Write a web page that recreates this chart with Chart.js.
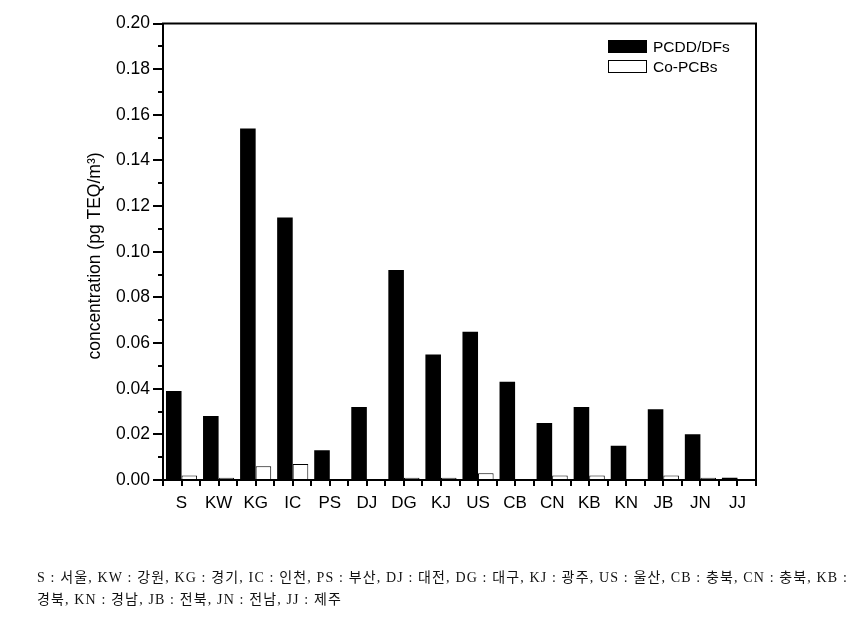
<!DOCTYPE html>
<html>
<head>
<meta charset="utf-8">
<script src="https://cdn.jsdelivr.net/npm/chart.js@4/dist/chart.umd.min.js"></script>
<style>
  html, body { margin: 0; padding: 0; background: #fff; }
  #wrap { position: relative; width: 862px; height: 617px; }
  #c { position: absolute; left: 0; top: 0; }
  .note { position: absolute; left: 37px; font-family: "Liberation Serif", "Noto Sans CJK KR", serif; font-size: 14px; color: #111; white-space: nowrap; }
</style>
</head>
<body>
<div id="wrap">
  <canvas id="c" width="862" height="617"></canvas>
  <div class="note" id="n1" style="top:566px;">S : 서울, KW : 강원, KG : 경기, IC : 인천, PS : 부산, DJ : 대전, DG : 대구, KJ : 광주, US : 울산, CB : 충북, CN : 충북, KB :</div>
  <div class="note" id="n2" style="top:588px;">경북, KN : 경남, JB : 전북, JN : 전남, JJ : 제주</div>
</div>
<script>
const categories = ['S','KW','KG','IC','PS','DJ','DG','KJ','US','CB','CN','KB','KN','JB','JN','JJ'];
const pcddValues = [0.039,0.028,0.154,0.115,0.013,0.032,0.092,0.055,0.065,0.043,0.025,0.032,0.015,0.031,0.020,0.001];
const copcbValues = [0.002,0.001,0.006,0.007,0,0,0.001,0.001,0.003,0,0.002,0.002,0,0.002,0.001,0];
const seriesNames = ['PCDD/DFs','Co-PCBs'];
const yTickValues = [0,0.02,0.04,0.06,0.08,0.10,0.12,0.14,0.16,0.18,0.20];
const yTitle = 'concentration (pg TEQ/m³)';

const FONT = '"Liberation Sans", Arial, sans-serif';

// fit caption line 1 to reference width
(function () {
  const n1 = document.getElementById('n1'), n2 = document.getElementById('n2');
  const target = 811;
  const w = n1.getBoundingClientRect().width;
  const chars = n1.textContent.length;
  const ls = (target - w) / chars;
  n1.style.letterSpacing = ls + 'px';
  n2.style.letterSpacing = ls + 'px';
})();

const framePlugin = {
  id: 'frame',
  afterDraw(chart) {
    const ctx = chart.ctx;
    const a = chart.chartArea;
    const ys = chart.scales.y;
    ctx.save();
    ctx.strokeStyle = '#000';
    ctx.lineWidth = 2;
    ctx.strokeRect(a.left, a.top, a.right - a.left, a.bottom - a.top);
    for (let i = 0; i <= 20; i++) {
      const py = Math.round(ys.getPixelForValue(i * 0.01));
      const len = (i % 2 === 0) ? 10 : 5;
      ctx.beginPath();
      ctx.moveTo(a.left - len, py);
      ctx.lineTo(a.left, py);
      ctx.stroke();
    }
    const n = categories.length;
    const w = (a.right - a.left) / n;
    for (let i = 0; i <= 2 * n; i++) {
      const px = Math.round(a.left + i * w / 2);
      ctx.beginPath();
      ctx.moveTo(px, a.bottom);
      ctx.lineTo(px, a.bottom + 6);
      ctx.stroke();
    }
    ctx.fillStyle = '#000';
    ctx.font = '17.5px ' + FONT;
    ctx.textAlign = 'center';
    ctx.textBaseline = 'middle';
    ctx.translate(95, 256);
    ctx.rotate(-Math.PI / 2);
    ctx.fillText(yTitle, 0, 0);
    ctx.restore();

    ctx.save();
    const ds = chart.data.datasets;
    const boxX = 608, boxW = 39, boxH = 13;
    const rows = [40, 60];
    ds.forEach((d, i) => {
      const y = rows[i];
      ctx.fillStyle = d.backgroundColor;
      ctx.fillRect(boxX, y, boxW, boxH);
      ctx.strokeStyle = '#000';
      ctx.lineWidth = 1;
      ctx.strokeRect(boxX + 0.5, y + 0.5, boxW - 1, boxH - 1);
      ctx.fillStyle = '#000';
      ctx.font = '15.5px ' + FONT;
      ctx.textAlign = 'left';
      ctx.textBaseline = 'middle';
      ctx.fillText(d.label, 653, y + boxH / 2 + 1);
    });
    ctx.restore();
  }
};

new Chart(document.getElementById('c'), {
  type: 'bar',
  data: {
    labels: categories,
    datasets: [
      { label: seriesNames[0], data: pcddValues, backgroundColor: '#000000', borderColor: '#000', borderWidth: 0 },
      { label: seriesNames[1], data: copcbValues, backgroundColor: '#ffffff', borderColor: '#000', borderWidth: 1 }
    ]
  },
  options: {
    responsive: false,
    animation: false,
    layout: { padding: { left: 0, right: 106, top: 19, bottom: 97 } },
    datasets: { bar: { categoryPercentage: 0.84, barPercentage: 1.0, borderSkipped: 'bottom' } },
    plugins: { legend: { display: false }, tooltip: { enabled: false } },
    scales: {
      x: {
        grid: { display: false, drawTicks: false },
        border: { display: false },
        ticks: { color: '#000', font: { family: FONT, size: 17 }, padding: 13, maxRotation: 0, autoSkip: false },
        afterFit(scale) { scale.height = 40; }
      },
      y: {
        min: 0, max: 0.20,
        grid: { display: false, drawTicks: false },
        border: { display: false },
        afterBuildTicks(scale) { scale.ticks = yTickValues.map(v => ({ value: v })); },
        ticks: { color: '#000', font: { family: FONT, size: 17.5 }, padding: 13, callback: v => Number(v).toFixed(2) },
        afterFit(scale) { scale.width = 163; }
      }
    }
  },
  plugins: [framePlugin]
});
</script>
</body>
</html>
